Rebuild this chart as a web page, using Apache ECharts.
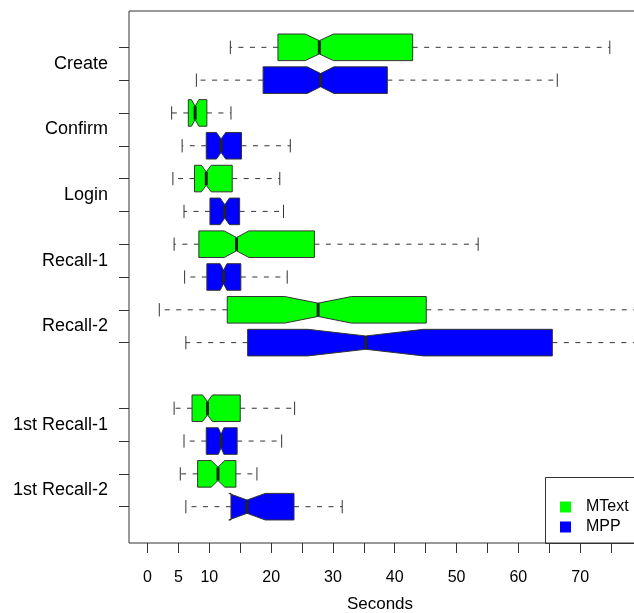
<!DOCTYPE html>
<html>
<head>
<meta charset="utf-8">
<script src="https://cdn.jsdelivr.net/npm/echarts@6/dist/echarts.min.js"></script>
<style>
  html, body { margin: 0; padding: 0; background: #fff; }
  #chart { width: 634px; height: 613px; }
</style>
</head>
<body>
<div id="chart"></div>
<script>
// ---- data (seconds) ----
const categories = ['Create', 'Confirm', 'Login', 'Recall-1', 'Recall-2', '1st Recall-1', '1st Recall-2'];
const seriesNames = ['MText', 'MPP'];

const mtextLow    = [13.4, 3.9, 4.1, 4.3, 1.9, 4.3, 5.3];
const mtextQ1     = [21.1, 6.6, 7.6, 8.3, 12.9, 7.2, 8.1];
const mtextMedian = [27.8, 7.7, 9.5, 14.4, 27.6, 9.7, 11.4];
const mtextQ3     = [42.9, 9.6, 13.7, 27.0, 45.1, 15.0, 14.3];
const mtextHigh   = [74.8, 13.5, 21.4, 53.5, 100, 23.8, 17.7];
const mtextNotch  = [2.3, 0.6, 0.8, 2.0, 5.4, 0.8, 1.1];

const mppLow    = [7.9, 5.6, 5.9, 6.0, 6.2, 5.9, 6.2];
const mppQ1     = [18.7, 9.5, 10.1, 9.6, 16.2, 9.5, 13.5];
const mppMedian = [28.0, 11.9, 12.5, 12.3, 35.3, 11.9, 16.1];
const mppQ3     = [38.8, 15.2, 14.9, 15.1, 65.5, 14.5, 23.7];
const mppHigh   = [66.3, 23.1, 22.0, 22.6, 125, 21.7, 31.5];
const mppNotch  = [2.15, 0.75, 0.75, 0.55, 9.35, 0.45, 2.95];

const xTickValues = [0, 5, 10, 15, 20, 25, 30, 35, 40, 45, 50, 55, 60, 65, 70, 75, 80];
const xTickLabels = [0, 5, 10, 20, 30, 40, 50, 60, 70];

// ---- layout helpers ----
const PX_PER_UNIT = 6.18;
const X_MIN = -3, X_MAX = 130;
const Y_PAD = 1.107;
function groupBase(i) { return 2 * i + (i >= 5 ? 1 : 0); }
const slotCount = groupBase(categories.length - 1) + 2;

function buildData(low, q1, med, q3, high, notch, offset) {
  return categories.map((c, i) => [groupBase(i) + offset, low[i], q1[i], med[i], q3[i], high[i], notch[i]]);
}

const tickSlots = [];
const labelSlots = [];
categories.forEach((c, i) => {
  tickSlots.push(groupBase(i), groupBase(i) + 1);
  labelSlots.push(groupBase(i) + 0.5);
});

const BOX_HALF = 0.405;
const EDGE = '#333333';
const WHISK = '#333333';

function renderItem(params, api) {
  const pos = api.value(0);
  const lo = api.value(1), q1 = api.value(2), med = api.value(3),
        q3 = api.value(4), hi = api.value(5), nh = api.value(6);
  const y = api.coord([med, pos])[1];
  const unit = api.size([0, 1])[1];
  const hh = unit * BOX_HALF;
  const X = v => api.coord([v, pos])[0];
  const color = api.visual('color');
  const xl = X(lo), x1 = X(q1), xm = X(med), x3 = X(q3), xh = X(hi);
  const nl = X(med - nh), nr = X(med + nh);
  const dash = { stroke: WHISK, lineWidth: 1, lineDash: [5, 6.5] };
  const solid = { stroke: WHISK, lineWidth: 1 };
  return {
    type: 'group',
    children: [
      { type: 'line', shape: { x1: x1, y1: y, x2: xl, y2: y }, style: dash },
      { type: 'line', shape: { x1: x3, y1: y, x2: xh, y2: y }, style: dash },
      { type: 'line', shape: { x1: xl, y1: y - hh / 2, x2: xl, y2: y + hh / 2 }, style: solid },
      { type: 'line', shape: { x1: xh, y1: y - hh / 2, x2: xh, y2: y + hh / 2 }, style: solid },
      {
        type: 'polygon',
        shape: {
          points: [
            [x1, y - hh], [nl, y - hh], [xm, y - hh / 2], [nr, y - hh], [x3, y - hh],
            [x3, y + hh], [nr, y + hh], [xm, y + hh / 2], [nl, y + hh], [x1, y + hh]
          ]
        },
        style: { fill: color, stroke: EDGE, lineWidth: 1 }
      },
      { type: 'line', shape: { x1: xm, y1: y - hh / 2, x2: xm, y2: y + hh / 2 }, style: { stroke: '#222', lineWidth: 3 } }
    ]
  };
}

const chart = echarts.init(document.getElementById('chart'), null, { renderer: 'canvas' });
const FONT = 'Liberation Sans, Arial, sans-serif';

chart.setOption({
  animation: false,
  backgroundColor: '#ffffff',
  grid: {
    left: 129, top: 11, height: 532,
    width: (X_MAX - X_MIN) * PX_PER_UNIT,
    outerBoundsMode: 'none',
    containLabel: false,
    show: true, borderColor: EDGE, borderWidth: 1, backgroundColor: 'transparent'
  },
  xAxis: {
    type: 'value', min: X_MIN, max: X_MAX, position: 'bottom',
    splitLine: { show: false },
    axisLine: { show: false, onZero: false },
    axisTick: { show: true, length: 10, customValues: xTickValues, lineStyle: { color: EDGE } },
    axisLabel: {
      show: true, margin: 27, customValues: xTickLabels,
      color: '#000', fontSize: 16, fontFamily: FONT
    }
  },
  yAxis: {
    type: 'value', inverse: true, position: 'left',
    min: -Y_PAD, max: slotCount - 1 + Y_PAD,
    splitLine: { show: false },
    axisLine: { show: false, onZero: false },
    axisTick: { show: true, length: 10, customValues: tickSlots, lineStyle: { color: EDGE } },
    axisLabel: {
      show: true, margin: 21, customValues: labelSlots,
      color: '#000', fontSize: 18, fontFamily: FONT,
      formatter: function (v) {
        const idx = labelSlots.findIndex(s => Math.abs(s - v) < 1e-6);
        return idx >= 0 ? categories[idx] : '';
      }
    }
  },
  legend: {
    orient: 'vertical', left: 555, top: 494,
    icon: 'rect', itemWidth: 11, itemHeight: 11, itemGap: 4,
    data: seriesNames,
    textStyle: { color: '#000', fontSize: 16, fontFamily: FONT, lineHeight: 16, padding: [0, 0, 0, 10] }
  },
  graphic: [
    {
      type: 'rect', z: 1,
      shape: { x: 545.5, y: 477.5, width: 300, height: 66 },
      style: { fill: 'none', stroke: EDGE, lineWidth: 1 }
    },
    {
      type: 'text', x: 380, y: 604,
      style: { text: 'Seconds', font: '17px Liberation Sans, Arial, sans-serif', fill: '#000', textAlign: 'center', textVerticalAlign: 'middle' }
    }
  ],
  series: [
    {
      name: seriesNames[0], type: 'custom', renderItem: renderItem,
      itemStyle: { color: '#00ff00' },
      encode: { x: [1, 2, 3, 4, 5], y: 0 },
      data: buildData(mtextLow, mtextQ1, mtextMedian, mtextQ3, mtextHigh, mtextNotch, 0)
    },
    {
      name: seriesNames[1], type: 'custom', renderItem: renderItem,
      itemStyle: { color: '#0000ff' },
      encode: { x: [1, 2, 3, 4, 5], y: 0 },
      data: buildData(mppLow, mppQ1, mppMedian, mppQ3, mppHigh, mppNotch, 1)
    }
  ]
});
</script>
</body>
</html>
